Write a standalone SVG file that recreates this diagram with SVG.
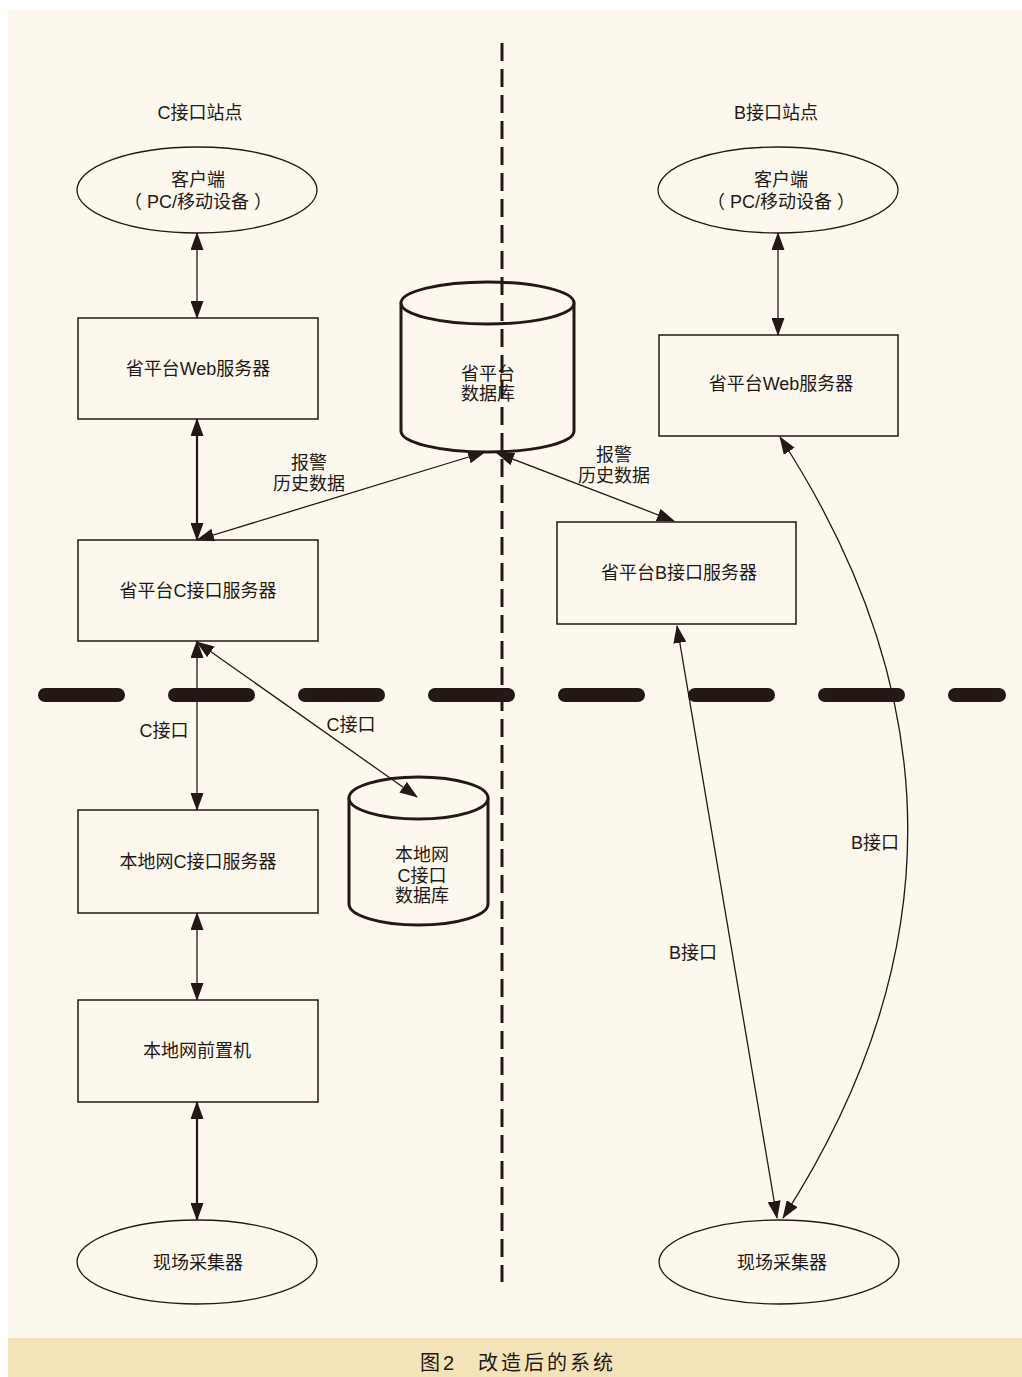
<svg xmlns="http://www.w3.org/2000/svg" width="1022" height="1377" viewBox="0 0 1022 1377">
<defs>
<style>
text{font-family:"Liberation Sans","Noto Sans CJK SC",sans-serif;font-size:18px;fill:#231815;text-anchor:middle}
.box{fill:none;stroke:#231815;stroke-width:1.5}
.ell{fill:none;stroke:#231815;stroke-width:1.3}
.cyl{fill:#fcf8ee;stroke:#231815;stroke-width:3}
.thin{fill:none;stroke:#231815;stroke-width:1.3;marker-start:url(#ah);marker-end:url(#ah)}
.thick{fill:none;stroke:#231815;stroke-width:2.2;marker-start:url(#ah);marker-end:url(#ah)}
.cap{font-size:20px;letter-spacing:3px;text-anchor:start}
</style>
<marker id="ah" markerUnits="userSpaceOnUse" markerWidth="18" markerHeight="13" refX="17" refY="6.5" orient="auto-start-reverse" viewBox="0 0 18 13">
<path d="M0,0 L18,6.5 L0,13 z" fill="#231815"/>
</marker>
</defs>
<rect x="0" y="0" width="1022" height="1377" fill="#ffffff"/>
<rect x="8" y="10" width="1014" height="1328" fill="#fcf8ee"/>
<rect x="8" y="1338" width="1014" height="39" fill="#f4e3b8"/>
<text class="cap" x="420" y="1370">图2</text>
<text class="cap" x="478" y="1370">改造后的系统</text>

<text x="200" y="119">C接口站点</text>
<text x="776" y="119">B接口站点</text>

<g id="client-c">
<ellipse class="ell" cx="197" cy="190" rx="120" ry="43"/>
<text x="198" y="185.5">客户端</text>
<text x="198" y="207.5">（ PC/移动设备 ）</text>
</g>
<g id="web-c">
<rect class="box" x="78" y="318" width="240" height="101"/>
<text x="198" y="374.5">省平台Web服务器</text>
</g>
<g id="cserver">
<rect class="box" x="78" y="540" width="240" height="101"/>
<text x="198" y="596.5">省平台C接口服务器</text>
</g>
<g id="local-cserver">
<rect class="box" x="78" y="810" width="240" height="103"/>
<text x="198" y="867.5">本地网C接口服务器</text>
</g>
<g id="frontend">
<rect class="box" x="78" y="1000" width="240" height="102"/>
<text x="197" y="1056.5">本地网前置机</text>
</g>
<g id="collector-c">
<ellipse class="ell" cx="197" cy="1262" rx="120" ry="42"/>
<text x="198" y="1268.5">现场采集器</text>
</g>
<g id="db-prov">
<path class="cyl" d="M401,303 L401,431 A86.5,21 0 0 0 574,431 L574,303"/>
<ellipse class="cyl" cx="487.5" cy="303" rx="86.5" ry="21"/>
<text x="488" y="379.5">省平台</text>
<text x="488" y="399.5">数据库</text>
</g>
<g id="db-local">
<path class="cyl" d="M349,798 L349,904 A69.5,21 0 0 0 488,904 L488,798"/>
<ellipse class="cyl" cx="418.5" cy="798" rx="69.5" ry="21"/>
<text x="422" y="860.5">本地网</text>
<text x="422" y="881.5">C接口</text>
<text x="422" y="901.5">数据库</text>
</g>
<g id="client-b">
<ellipse class="ell" cx="778" cy="190" rx="120" ry="43"/>
<text x="781" y="185.5">客户端</text>
<text x="781" y="207.5">（ PC/移动设备 ）</text>
</g>
<g id="web-b">
<rect class="box" x="659" y="335" width="239" height="101"/>
<text x="781" y="389.5">省平台Web服务器</text>
</g>
<g id="bserver">
<rect class="box" x="557" y="522" width="239" height="102"/>
<text x="679" y="578.5">省平台B接口服务器</text>
</g>
<g id="collector-b">
<ellipse class="ell" cx="779" cy="1262" rx="120" ry="42"/>
<text x="782" y="1268.5">现场采集器</text>
</g>

<g id="connectors">
<path class="thin" d="M197,233 L197,318"/>
<path class="thick" d="M197,419 L197,540"/>
<path class="thin" d="M197,641 L197,810"/>
<path class="thin" d="M197,913 L197,1000"/>
<path class="thick" d="M197,1102 L197,1220"/>
<path class="thin" d="M197,540 L485,452"/>
<path class="thin" d="M497,453 L674,521"/>
<path class="thin" d="M197,642 L417,797"/>
<path class="thin" d="M778,233 L778,335"/>
<path class="thin" d="M677,626 L777,1218"/>
<path class="thin" d="M780,437 Q1034,828 783,1218"/>
<text x="309" y="468.5">报警</text>
<text x="309" y="489.5">历史数据</text>
<text x="614" y="460.5">报警</text>
<text x="614" y="481.5">历史数据</text>
<text x="164" y="736.5">C接口</text>
<text x="351" y="730.5">C接口</text>
<text x="693" y="958.5">B接口</text>
<text x="875" y="848.5">B接口</text>
</g>

<g id="boundaries">
<path d="M502,43 L502,1282" fill="none" stroke="#231815" stroke-width="3" stroke-dasharray="18 8"/>
<path d="M45,695 L999,695" fill="none" stroke="#231815" stroke-width="14" stroke-linecap="round" stroke-dasharray="73 57"/>
</g>
</svg>
